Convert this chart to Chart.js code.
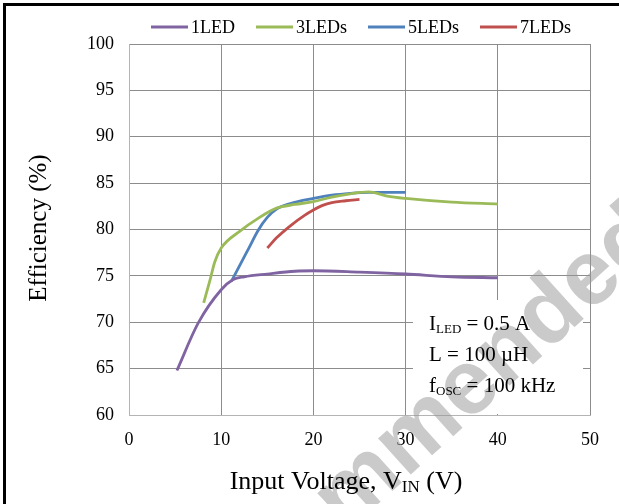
<!DOCTYPE html>
<html>
<head>
<meta charset="utf-8">
<script src="https://cdn.jsdelivr.net/npm/chart.js@4"></script>
<style>
html, body { margin: 0; padding: 0; background: #fff; overflow: hidden; }
#wrap { position: relative; width: 619px; height: 504px; }
#frame { position: absolute; left: 3px; top: 3px; width: 640px; height: 520px; border-left: 3px solid #000; border-top: 3px solid #000; }
canvas { position: absolute; left: 0; top: 0; }
</style>
</head>
<body>
<div id="wrap">
  <div id="frame"></div>
  <canvas id="effChart" width="619" height="504"></canvas>
</div>
<script>
// efficiency vs input voltage
const seriesNames = ['1LED', '3LEDs', '5LEDs', '7LEDs'];
const seriesColors = ['#8064A2', '#9BBB59', '#4F81BD', '#C0504D'];

const vin1 = [5.2, 7.5, 10, 11.3, 12.5, 15, 18, 20, 25, 30, 35, 40];
const eff1 = [64.8, 69.9, 73.5, 74.6, 74.9, 75.2, 75.5, 75.55, 75.4, 75.2, 74.9, 74.8];

const vin3 = [8.1, 8.8, 9.3, 10, 12, 14, 16, 18, 20, 22, 24, 26, 28, 30, 35, 40];
const eff3 = [72.1, 74.6, 76.5, 78, 79.8, 81.2, 82.3, 82.7, 83.0, 83.5, 83.85, 84.05, 83.6, 83.35, 82.95, 82.75];

const vin5 = [11.1, 12, 13, 14, 15, 16, 17.5, 20, 22, 24, 26, 28, 30];
const eff5 = [74.4, 76.1, 78.0, 79.9, 81.3, 82.2, 82.8, 83.35, 83.7, 83.9, 84.0, 84.0, 84.0];

const vin7 = [15, 16, 17.5, 19, 20, 21, 22, 23.5, 25];
const eff7 = [78, 79.1, 80.4, 81.5, 82.1, 82.6, 82.9, 83.1, 83.25];

const xTicks = [0, 10, 20, 30, 40, 50];
const yTicks = [60, 65, 70, 75, 80, 85, 90, 95, 100];

const serif = '"Liberation Serif", "Times New Roman", serif';

function toPoints(xs, ys) {
    return xs.map((x, i) => ({ x: x, y: ys[i] }));
}

const allX = [vin1, vin3, vin5, vin7];
const allY = [eff1, eff3, eff5, eff7];

const datasets = seriesNames.map((name, i) => ({
    label: name,
    data: toPoints(allX[i], allY[i]),
    borderColor: seriesColors[i],
    backgroundColor: seriesColors[i],
    borderWidth: 2.8,
    showLine: true,
    pointRadius: 0,
    cubicInterpolationMode: 'monotone'
}));

// text with a subscript part: [[text, isSub], ...]
function drawRich(ctx, parts, x, y, size, align) {
    const sub = Math.round(size * 0.64);
    let total = 0;
    parts.forEach(p => {
        ctx.font = (p[1] ? sub : size) + 'px ' + serif;
        total += ctx.measureText(p[0]).width;
    });
    let cx = align === 'center' ? x - total / 2 : x;
    ctx.textAlign = 'left';
    ctx.textBaseline = 'alphabetic';
    parts.forEach(p => {
        ctx.font = (p[1] ? sub : size) + 'px ' + serif;
        ctx.fillText(p[0], cx, p[1] ? y + size * 0.12 : y);
        cx += ctx.measureText(p[0]).width;
    });
}

const decor = {
    id: 'decor',
    afterDraw(chart) {
        const ctx = chart.ctx;
        ctx.save();

        // note box
        ctx.fillStyle = '#fff';
        ctx.fillRect(413, 300, 170, 114);

        // watermark
        ctx.save();
        ctx.translate(178, 684);
        ctx.rotate(-42 * Math.PI / 180);
        ctx.font = 'bold 92px "Liberation Sans", Arial, sans-serif';
        ctx.fillStyle = 'rgba(150,150,150,0.5)';
        ctx.textAlign = 'left';
        ctx.textBaseline = 'alphabetic';
        ctx.fillText('Recommended', 0, 0);
        ctx.restore();

        ctx.fillStyle = '#000';
        drawRich(ctx, [['I', false], ['LED', true], [' = 0.5 A', false]], 429, 330, 21, 'left');
        drawRich(ctx, [['L = 100 \u00b5H', false]], 429, 361, 21, 'left');
        drawRich(ctx, [['f', false], ['OSC', true], [' = 100 kHz', false]], 429, 392, 21, 'left');

        // axis titles
        drawRich(ctx, [['Input Voltage, V', false], ['IN', true], [' (V)', false]], 346, 489, 26, 'center');
        ctx.save();
        ctx.translate(46, 228);
        ctx.rotate(-Math.PI / 2);
        drawRich(ctx, [['Efficiency (%)', false]], 0, 0, 25, 'center');
        ctx.restore();

        // legend
        ctx.font = '18px ' + serif;
        const lineLen = 37, gap = 3, spacing = 21;
        const widths = chart.data.datasets.map(d => lineLen + gap + ctx.measureText(d.label).width);
        const total = widths.reduce((a, b) => a + b, 0) + spacing * (widths.length - 1);
        let lx = 361 - total / 2;
        const ly = 27;
        chart.data.datasets.forEach((d, i) => {
            ctx.strokeStyle = d.borderColor;
            ctx.lineWidth = 3;
            ctx.beginPath();
            ctx.moveTo(lx, ly);
            ctx.lineTo(lx + lineLen, ly);
            ctx.stroke();
            ctx.fillStyle = '#000';
            ctx.textAlign = 'left';
            ctx.textBaseline = 'middle';
            ctx.fillText(d.label, lx + lineLen + gap, ly + 1);
            lx += widths[i] + spacing;
        });

        ctx.restore();
    }
};

new Chart(document.getElementById('effChart').getContext('2d'), {
    type: 'scatter',
    data: { datasets: datasets },
    options: {
        responsive: false,
        animation: false,
        layout: { padding: { top: 44, right: 29, left: 0, bottom: 0 } },
        plugins: {
            legend: { display: false },
            tooltip: { enabled: false }
        },
        scales: {
            x: {
                type: 'linear',
                min: xTicks[0],
                max: xTicks[xTicks.length - 1],
                afterBuildTicks: s => { s.ticks = xTicks.map(v => ({ value: v })); },
                afterFit: s => { s.height = 89; },
                grid: { color: '#8c8c8c', lineWidth: 1, drawTicks: false },
                border: { color: '#b4b4b4', width: 1 },
                ticks: { padding: 14, color: '#000', font: { family: serif, size: 18 } }
            },
            y: {
                type: 'linear',
                min: yTicks[0],
                max: yTicks[yTicks.length - 1],
                afterBuildTicks: s => { s.ticks = yTicks.map(v => ({ value: v })); },
                afterFit: s => { s.width = 129; },
                grid: { color: '#8c8c8c', lineWidth: 1, drawTicks: false },
                border: { color: '#b4b4b4', width: 1 },
                ticks: { padding: 15, color: '#000', font: { family: serif, size: 18 } }
            }
        }
    },
    plugins: [decor]
});
</script>
</body>
</html>
